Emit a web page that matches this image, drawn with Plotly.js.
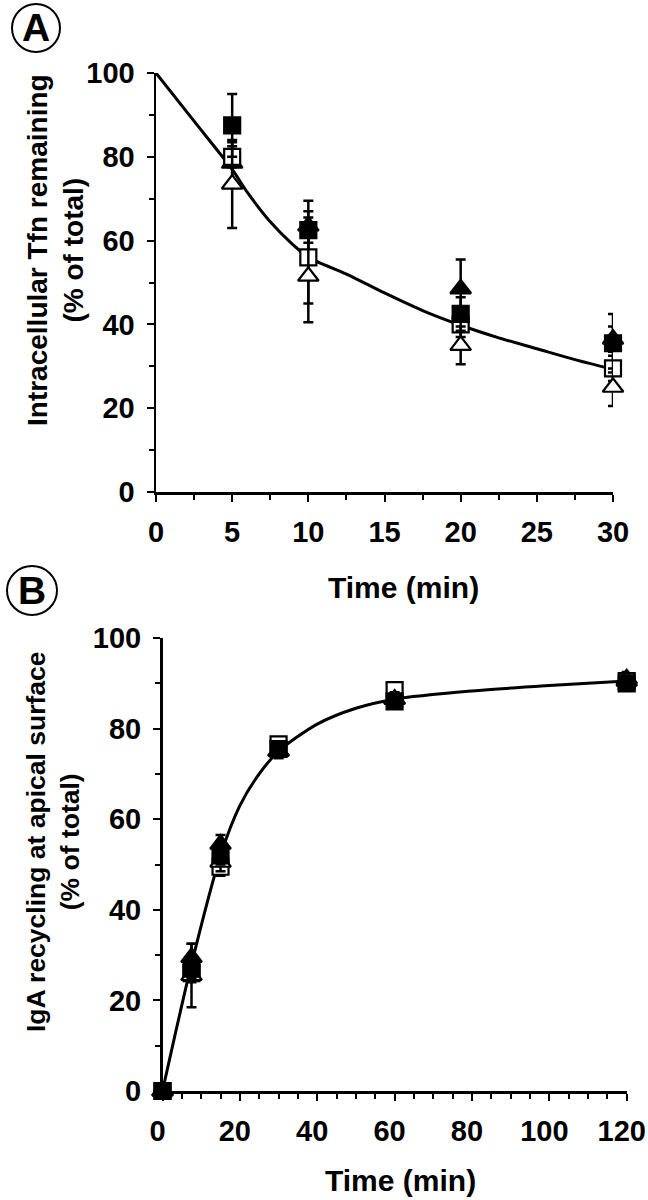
<!DOCTYPE html>
<html><head><meta charset="utf-8">
<script src="https://cdn.plot.ly/plotly-3.0.1.min.js"></script>
<style>html,body{margin:0;padding:0;background:#fff}</style>
</head><body><div id="chart" style="width:648px;height:1200px"></div>
<script>
// ---- Panel A: intracellular Tfn remaining ----
const timeA = [5, 10, 20, 30];
const filledSquareA = [87.5, 62.5, 42.5, 35.5];
const filledSquareA_err = [7.5, 3, 4, 7];
const filledTriangleA = [78.5, 63.5, 48.5, 36.5];
const filledTriangleA_err = [5, 6, 7, 3];
const openSquareA = [80, 56, 40, 29.5];
const openSquareA_err = [2.5, 11, 3, 3];
const openTriangleA = [73.5, 51.5, 35, 25];
const openTriangleA_err = [10.5, 11, 4.5, 4.5];
const fitA_t = [0, 2.5, 5, 6, 7.5, 9, 10, 12.5, 15, 17.5, 20, 22.5, 25, 27.5, 30];
const fitA_y = [100, 88.5, 77, 71.5, 64.5, 59, 56, 52, 47.5, 43.3, 39.8, 36.8, 34.2, 31.6, 29.3];

// ---- Panel B: IgA recycling at apical surface ----
const timeB = [0, 7.5, 15, 30, 60, 120];
const filledSquareB = [0, 27, 52, 75.5, 86, 90];
const filledSquareB_err = [0, 2, 2, 1.5, 1.5, 1.5];
const filledTriangleB = [0, 29.5, 54.5, 75, 86.5, 91];
const filledTriangleB_err = [0, 3, 2, 1.5, 1.5, 1.5];
const openSquareB = [0, 26, 49.5, 76.5, 88.5, 90.5];
const openSquareB_err = [0, 2, 2, 1.5, 1.5, 1.5];
const openTriangleB = [0, 25.5, 50.5, 75, 86.5, 90.5];
const openTriangleB_err = [0, 7, 2, 1.5, 1.5, 1.5];
const fitB_t = [0, 7.5, 15, 20, 25, 30, 40, 50, 60, 80, 100, 120];
const fitB_y = [0, 28, 52, 63, 70, 75, 81, 84.5, 86.5, 88.3, 89.5, 90.5];

const xTicksA = [0, 5, 10, 15, 20, 25, 30];
const xTicksB = [0, 20, 40, 60, 80, 100, 120];
const yTicks = [0, 20, 40, 60, 80, 100];

const FONT = 'Liberation Sans, Arial, Helvetica, sans-serif';

function errBar(arr) {
  return {type: 'data', array: arr, symmetric: true, color: '#000', thickness: 2.5, width: 5};
}
function markerTrace(x, y, err, kind, xa, ya) {
  const filled = kind.startsWith('filled');
  const tri = kind.endsWith('Triangle');
  return {
    x: x, y: y, xaxis: xa, yaxis: ya, type: 'scatter', mode: 'markers',
    error_y: errBar(err), cliponaxis: false, showlegend: false, hoverinfo: 'skip',
    marker: {
      symbol: tri ? 'triangle-up' : 'square',
      size: tri ? 18 : 16,
      color: filled ? '#000' : '#fff',
      line: {color: '#000', width: 2.2}
    }
  };
}
function fitTrace(x, y, xa, ya) {
  return {x: x, y: y, xaxis: xa, yaxis: ya, type: 'scatter', mode: 'lines',
    line: {color: '#000', width: 3, shape: 'spline', smoothing: 0.8},
    cliponaxis: false, showlegend: false, hoverinfo: 'skip'};
}

const traces = [
  fitTrace(fitA_t, fitA_y, 'x', 'y'),
  markerTrace(timeA, filledTriangleA, filledTriangleA_err, 'filledTriangle', 'x', 'y'),
  markerTrace(timeA, openSquareA, openSquareA_err, 'openSquare', 'x', 'y'),
  markerTrace(timeA, openTriangleA, openTriangleA_err, 'openTriangle', 'x', 'y'),
  markerTrace(timeA, filledSquareA, filledSquareA_err, 'filledSquare', 'x', 'y'),
  fitTrace(fitB_t, fitB_y, 'x2', 'y2'),
  markerTrace(timeB, filledTriangleB, filledTriangleB_err, 'filledTriangle', 'x2', 'y2'),
  markerTrace(timeB, openSquareB, openSquareB_err, 'openSquare', 'x2', 'y2'),
  markerTrace(timeB, openTriangleB, openTriangleB_err, 'openTriangle', 'x2', 'y2'),
  markerTrace(timeB, filledSquareB, filledSquareB_err, 'filledSquare', 'x2', 'y2')
];

const tickFont = {family: FONT, size: 29, color: '#000', weight: 'bold'};
function axis(extra) {
  return Object.assign({
    showline: true, linewidth: 2.5, linecolor: '#000', mirror: false,
    ticks: 'outside', ticklen: 7, tickwidth: 2, tickcolor: '#000',
    showgrid: false, zeroline: false, tickfont: tickFont, ticklabelstandoff: 6,
    ticklabeloverflow: 'allow', fixedrange: true
  }, extra);
}
const minorTicks = d => ({dtick: d, ticks: 'outside', ticklen: 5, tickwidth: 2, tickcolor: '#000', showgrid: false});

const W = 648, H = 1200;
const px = v => v / W;
const py = v => 1 - v / H;

const yTitleFontA = {family: FONT, size: 28, color: '#000', weight: 'bold'};
const yTitleFontB = {family: FONT, size: 26.5, color: '#000', weight: 'bold'};
const xTitleFont = {family: FONT, size: 30, color: '#000', weight: 'bold'};
const labelFont = {family: FONT, size: 39, color: '#000', weight: 'bold'};

const layout = {
  width: W, height: H,
  margin: {l: 0, r: 0, t: 0, b: 0},
  paper_bgcolor: '#fff', plot_bgcolor: '#fff',
  showlegend: false,
  xaxis: axis({domain: [px(156), px(613)], range: [0, 30], anchor: 'y',
    tickmode: 'array', tickvals: xTicksA, ticktext: xTicksA.map(String), minor: minorTicks(2.5)}),
  yaxis: axis({domain: [py(492), py(73)], range: [0, 100], anchor: 'x',
    tickmode: 'array', tickvals: yTicks, ticktext: yTicks.map(String), minor: minorTicks(10)}),
  xaxis2: axis({domain: [px(162.5), px(626.7)], range: [0, 120], anchor: 'y2',
    tickmode: 'array', tickvals: xTicksB, ticktext: xTicksB.map(String),
    ticklabelshift: -5, minor: minorTicks(5)}),
  yaxis2: axis({domain: [py(1091), py(638)], range: [0, 100], anchor: 'x2',
    tickmode: 'array', tickvals: yTicks, ticktext: yTicks.map(String), minor: minorTicks(10)}),
  annotations: [
    {xref: 'paper', yref: 'paper', x: px(55), y: py(250), textangle: -90,
     text: 'Intracellular Tfn remaining<br>(% of total)', showarrow: false,
     font: yTitleFontA, xanchor: 'center', yanchor: 'middle'},
    {xref: 'paper', yref: 'paper', x: px(403), y: py(587),
     text: 'Time (min)', showarrow: false, font: xTitleFont, xanchor: 'center', yanchor: 'middle'},
    {xref: 'paper', yref: 'paper', x: px(53), y: py(842), textangle: -90,
     text: 'IgA recycling at apical surface<br>(% of total)', showarrow: false,
     font: yTitleFontB, xanchor: 'center', yanchor: 'middle'},
    {xref: 'paper', yref: 'paper', x: px(400), y: py(1180),
     text: 'Time (min)', showarrow: false, font: xTitleFont, xanchor: 'center', yanchor: 'middle'},
    {xref: 'paper', yref: 'paper', x: px(36), y: py(28),
     text: 'A', showarrow: false, font: labelFont, xanchor: 'center', yanchor: 'middle'},
    {xref: 'paper', yref: 'paper', x: px(32), y: py(591),
     text: 'B', showarrow: false, font: labelFont, xanchor: 'center', yanchor: 'middle'}
  ],
  shapes: [
    {type: 'circle', xref: 'paper', yref: 'paper', x0: px(12), x1: px(60), y0: py(52), y1: py(4),
     line: {color: '#000', width: 2}},
    {type: 'circle', xref: 'paper', yref: 'paper', x0: px(7), x1: px(57), y0: py(615), y1: py(566),
     line: {color: '#000', width: 2}}
  ]
};

Plotly.newPlot('chart', traces, layout, {displayModeBar: false, staticPlot: true});
</script>
</body></html>
